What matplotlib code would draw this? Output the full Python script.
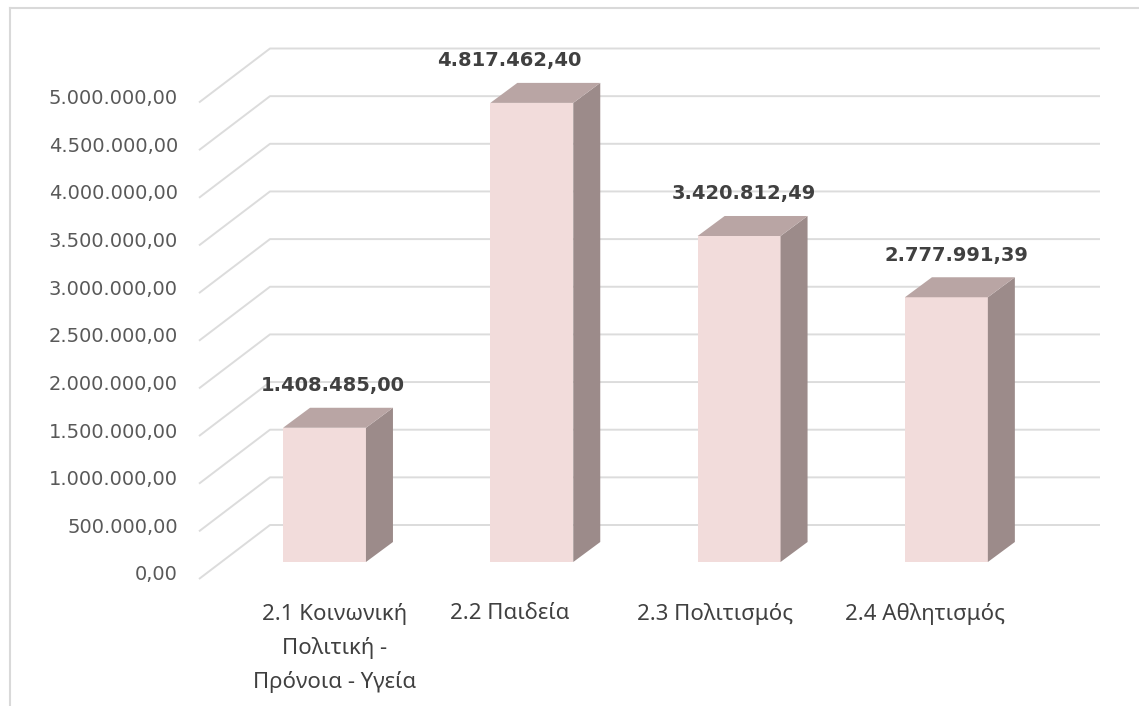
import matplotlib.pyplot as plt
from matplotlib.patches import Polygon
from matplotlib.lines import Line2D

categories = ["2.1 Κοινωνική\nΠολιτική -\nΠρόνοια - Υγεία", "2.2 Παιδεία",
              "2.3 Πολιτισμός", "2.4 Αθλητισμός"]
values = [1408485.00, 4817462.40, 3420812.49, 2777991.39]
ticks = [0, 500000, 1000000, 1500000, 2000000, 2500000,
         3000000, 3500000, 4000000, 4500000, 5000000]


def fmt(v):
    # greek number format 1.234.567,89
    s = f"{v:,.2f}"
    return s.replace(",", "X").replace(".", ",").replace("X", ".")


W, H = 1139, 706
fig = plt.figure(figsize=(W / 100, H / 100), dpi=100)
ax = fig.add_axes([0, 0, 1, 1])

# pixel scales of the fake 3d view
xpx = 207.3      # px per category
ypx = 95.3e-6    # px per value unit
x0 = 324.5       # px of first bar centre
base = H - 562   # px (from bottom) of bar baseline
ax.set_xlim(-x0 / xpx, (W - x0) / xpx)
ax.set_ylim(-base / ypx, (H - base) / ypx)
ax.axis("off")

w = 0.4
dx = 27 / xpx
dy = 20 / ypx

# walls / gridlines
front_x = (199 - x0) / xpx
back_x = (270 - x0) / xpx
right_x = (1100 - x0) / xpx
front_off = -17 / ypx
back_off = 37 / ypx
for t in ticks:
    ax.plot([front_x, back_x, right_x], [t + front_off, t + back_off, t + back_off],
            color="#DCDCDC", lw=1.4, zorder=1, solid_capstyle="butt")
    ax.annotate(fmt(t), xy=(front_x, t + front_off), xytext=(-21, 4),
                textcoords="offset pixels", ha="right", va="center",
                fontsize=14, color="#595959", family="DejaVu Sans")

# bars
xs = list(range(len(values)))
ax.bar(xs, values, width=w, color="#F2DCDB", zorder=3)
for i, v in zip(xs, values):
    r = i + w / 2
    l = i - w / 2
    ax.add_patch(Polygon([(r, 0), (r + dx, dy), (r + dx, v + dy), (r, v)],
                         closed=True, color="#9C8B8A", zorder=3, lw=0))
    ax.add_patch(Polygon([(l, v), (r, v), (r + dx, v + dy), (l + dx, v + dy)],
                         closed=True, color="#B9A5A4", zorder=3, lw=0))

val_dx = [8, -23, 5, 10]
for i, v, o in zip(xs, values, val_dx):
    ax.annotate(fmt(v), xy=(i, v), xytext=(o, 42), textcoords="offset pixels",
                ha="center", va="center", fontsize=14, fontweight="bold",
                color="#404040", family="DejaVu Sans", zorder=5)

cat_dx = [10, -22, -24, -21]
for i, c, o in zip(xs, categories, cat_dx):
    ax.annotate(c, xy=(i, 0), xytext=(o, -41), textcoords="offset pixels",
                ha="center", va="top", fontsize=16, color="#404040",
                family="Noto Sans", linespacing=1.72, multialignment="center")

# chart frame
fig.add_artist(Line2D([10 / W, 10 / W], [0, 1 - 8 / H], color="#D9D9D9", lw=1.5))
fig.add_artist(Line2D([10 / W, 1], [1 - 8 / H, 1 - 8 / H], color="#D9D9D9", lw=1.5))

fig.savefig("out.png", dpi=100, facecolor="white")
